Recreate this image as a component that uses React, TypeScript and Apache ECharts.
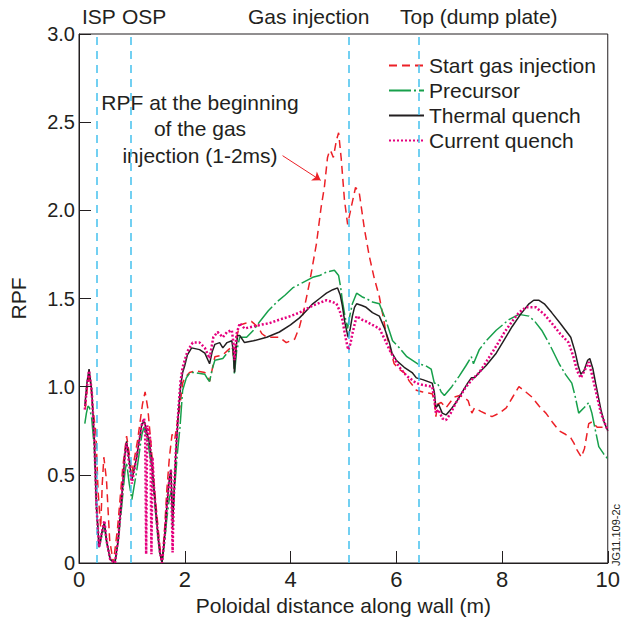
import React, { useEffect, useRef } from "react";
import * as echarts from "echarts";

const xTicks = [0, 2, 4, 6, 8, 10];
const yTicks = [0, 0.5, 1, 1.5, 2, 2.5, 3];

const startGas: [number, number][] = [
  [0.12,0.88],[0.16,1.0],[0.2,1.08],[0.26,0.88],[0.32,0.74],[0.36,0.41],[0.41,0.2],[0.44,0.45],[0.47,0.6],[0.52,0.47],[0.58,0.13],[0.65,0.0],[0.73,0.2],[0.83,0.55],[0.9,0.72],[0.95,0.62],[1.0,0.51],[1.11,0.7],[1.2,0.9],[1.25,0.97],[1.3,0.88],[1.36,0.68],[1.43,0.41],[1.53,0.09],[1.57,0.0],[1.62,0.2],[1.66,0.41],[1.71,0.6],[1.76,0.73],[1.81,0.7],[1.86,0.8],[1.91,0.89],[1.96,1.02],[2.0,1.05],[2.09,1.08],[2.2,1.09],[2.38,1.08],[2.47,1.03],[2.57,1.17],[2.72,1.18],[2.9,1.23],[2.94,1.1],[2.98,1.28],[3.04,1.35],[3.15,1.36],[3.26,1.37],[3.38,1.34],[3.46,1.3],[3.55,1.28],[3.79,1.28],[3.92,1.25],[4.08,1.27],[4.17,1.34],[4.25,1.43],[4.36,1.59],[4.49,1.81],[4.58,2.02],[4.64,2.13],[4.7,2.3],[4.74,2.34],[4.77,2.33],[4.81,2.3],[4.87,2.4],[4.91,2.44],[4.96,2.29],[5.02,2.06],[5.08,1.92],[5.15,2.02],[5.23,2.13],[5.3,2.1],[5.4,1.89],[5.49,1.74],[5.58,1.62],[5.68,1.51],[5.75,1.4],[5.81,1.3],[5.88,1.22],[5.96,1.13],[6.05,1.1],[6.15,1.08],[6.25,1.03],[6.38,0.98],[6.5,0.97],[6.68,0.96],[6.72,0.92],[6.75,0.83],[6.78,0.9],[6.85,0.91],[6.94,0.88],[7.09,0.94],[7.2,0.95],[7.28,0.94],[7.36,0.92],[7.43,0.85],[7.48,0.88],[7.6,0.86],[7.81,0.83],[7.95,0.85],[8.08,0.88],[8.2,0.94],[8.32,1.0],[8.45,0.97],[8.57,0.94],[8.7,0.89],[8.83,0.85],[8.95,0.8],[9.08,0.75],[9.2,0.73],[9.3,0.71],[9.36,0.68],[9.42,0.64],[9.5,0.6],[9.56,0.65],[9.64,0.79],[9.7,0.8],[9.8,0.77],[9.9,0.77],[10.0,0.77]
];

const precursor: [number, number][] = [
  [0.11,0.79],[0.14,0.85],[0.17,0.89],[0.2,0.88],[0.24,0.82],[0.29,0.65],[0.33,0.32],[0.38,0.09],[0.43,0.15],[0.48,0.21],[0.52,0.12],[0.59,0.02],[0.68,0.0],[0.74,0.12],[0.81,0.33],[0.87,0.52],[0.9,0.57],[0.95,0.45],[1.0,0.36],[1.09,0.52],[1.19,0.73],[1.23,0.77],[1.28,0.72],[1.32,0.65],[1.37,0.55],[1.42,0.38],[1.48,0.18],[1.53,0.05],[1.57,0.0],[1.62,0.12],[1.66,0.25],[1.71,0.37],[1.75,0.41],[1.78,0.3],[1.81,0.43],[1.86,0.62],[1.91,0.77],[1.96,0.98],[2.03,1.05],[2.1,1.08],[2.19,1.08],[2.38,1.07],[2.44,1.04],[2.47,1.03],[2.52,1.1],[2.57,1.15],[2.72,1.16],[2.8,1.19],[2.91,1.22],[2.94,1.07],[2.98,1.2],[3.04,1.28],[3.17,1.28],[3.3,1.32],[3.42,1.37],[3.58,1.43],[3.74,1.48],[3.9,1.52],[4.04,1.56],[4.23,1.59],[4.42,1.62],[4.55,1.63],[4.68,1.65],[4.83,1.66],[4.91,1.63],[4.95,1.56],[4.98,1.49],[5.03,1.4],[5.08,1.33],[5.12,1.4],[5.17,1.47],[5.25,1.53],[5.35,1.51],[5.43,1.5],[5.55,1.48],[5.68,1.47],[5.8,1.38],[5.93,1.26],[6.06,1.22],[6.2,1.17],[6.4,1.13],[6.55,1.12],[6.66,1.1],[6.72,1.02],[6.78,1.02],[6.85,0.97],[6.91,0.95],[7.05,1.0],[7.19,1.06],[7.32,1.12],[7.42,1.17],[7.46,1.13],[7.57,1.21],[7.7,1.26],[7.89,1.32],[8.13,1.38],[8.32,1.41],[8.51,1.4],[8.62,1.37],[8.75,1.32],[8.9,1.24],[9.08,1.13],[9.2,1.07],[9.32,1.02],[9.38,0.95],[9.45,0.85],[9.55,0.88],[9.64,0.91],[9.7,0.85],[9.74,0.79],[9.83,0.66],[9.92,0.62],[10.0,0.59]
];

const thermal: [number, number][] = [
  [0.11,0.89],[0.15,1.02],[0.19,1.1],[0.24,0.98],[0.29,0.7],[0.33,0.32],[0.38,0.09],[0.43,0.17],[0.48,0.23],[0.52,0.13],[0.59,0.02],[0.68,0.0],[0.74,0.13],[0.81,0.38],[0.87,0.62],[0.9,0.69],[0.95,0.58],[1.0,0.47],[1.09,0.6],[1.19,0.79],[1.24,0.8],[1.28,0.74],[1.32,0.7],[1.37,0.6],[1.42,0.42],[1.48,0.2],[1.53,0.06],[1.57,0.0],[1.62,0.15],[1.66,0.32],[1.71,0.48],[1.74,0.53],[1.77,0.2],[1.79,0.35],[1.83,0.62],[1.88,0.85],[1.92,1.0],[1.96,1.08],[2.0,1.12],[2.05,1.18],[2.13,1.22],[2.28,1.21],[2.38,1.19],[2.44,1.15],[2.47,1.13],[2.52,1.2],[2.57,1.24],[2.66,1.25],[2.72,1.22],[2.8,1.25],[2.89,1.26],[2.92,1.2],[2.94,1.08],[2.97,1.22],[3.0,1.29],[3.04,1.29],[3.13,1.25],[3.3,1.26],[3.55,1.28],[3.79,1.31],[4.0,1.35],[4.17,1.39],[4.3,1.43],[4.42,1.47],[4.55,1.5],[4.68,1.53],[4.8,1.55],[4.89,1.56],[4.94,1.52],[4.98,1.46],[5.03,1.36],[5.09,1.28],[5.13,1.33],[5.17,1.4],[5.21,1.45],[5.25,1.47],[5.35,1.46],[5.43,1.45],[5.55,1.42],[5.68,1.4],[5.78,1.33],[5.87,1.25],[5.92,1.19],[6.0,1.15],[6.15,1.11],[6.3,1.08],[6.38,1.05],[6.5,1.04],[6.68,1.02],[6.72,0.97],[6.75,0.88],[6.8,0.9],[6.87,0.85],[6.94,0.84],[7.03,0.87],[7.13,0.91],[7.25,0.97],[7.35,1.02],[7.42,1.05],[7.48,1.05],[7.57,1.08],[7.7,1.12],[7.89,1.19],[8.05,1.27],[8.19,1.34],[8.35,1.41],[8.51,1.47],[8.6,1.49],[8.7,1.49],[8.8,1.47],[8.94,1.42],[9.1,1.36],[9.2,1.32],[9.3,1.28],[9.38,1.2],[9.44,1.12],[9.49,1.07],[9.55,1.09],[9.62,1.15],[9.66,1.16],[9.72,1.1],[9.77,1.02],[9.87,0.87],[9.93,0.8],[10.0,0.75]
];

const current: [number, number][] = [
  [0.11,0.87],[0.15,1.0],[0.19,1.09],[0.24,0.98],[0.29,0.7],[0.33,0.32],[0.38,0.09],[0.43,0.17],[0.48,0.24],[0.52,0.13],[0.59,0.02],[0.68,0.0],[0.74,0.13],[0.81,0.38],[0.87,0.62],[0.9,0.68],[0.95,0.56],[1.0,0.45],[1.09,0.6],[1.19,0.79],[1.23,0.82],[1.25,0.78],[1.27,0.05],[1.29,0.78],[1.32,0.74],[1.35,0.7],[1.37,0.05],[1.39,0.6],[1.42,0.42],[1.48,0.2],[1.53,0.06],[1.57,0.0],[1.62,0.15],[1.66,0.32],[1.71,0.48],[1.74,0.53],[1.77,0.06],[1.79,0.35],[1.83,0.62],[1.88,0.87],[1.92,1.03],[1.96,1.11],[2.0,1.15],[2.05,1.2],[2.15,1.25],[2.28,1.25],[2.38,1.22],[2.44,1.18],[2.47,1.16],[2.54,1.28],[2.62,1.31],[2.72,1.28],[2.8,1.31],[2.89,1.32],[2.92,1.25],[2.94,1.15],[2.98,1.3],[3.04,1.36],[3.13,1.33],[3.42,1.35],[3.6,1.36],[3.79,1.38],[4.0,1.4],[4.17,1.42],[4.42,1.46],[4.68,1.49],[4.8,1.48],[4.87,1.47],[4.93,1.43],[4.98,1.38],[5.04,1.28],[5.09,1.21],[5.13,1.24],[5.17,1.3],[5.25,1.4],[5.35,1.38],[5.43,1.37],[5.55,1.35],[5.68,1.33],[5.78,1.27],[5.87,1.21],[6.0,1.14],[6.06,1.11],[6.2,1.06],[6.38,1.02],[6.5,1.01],[6.68,1.0],[6.72,0.93],[6.75,0.85],[6.8,0.87],[6.87,0.82],[6.94,0.81],[7.03,0.85],[7.13,0.91],[7.3,0.99],[7.43,1.04],[7.57,1.08],[7.7,1.14],[7.89,1.23],[8.05,1.31],[8.19,1.37],[8.32,1.42],[8.45,1.45],[8.64,1.45],[8.8,1.41],[8.94,1.36],[9.1,1.3],[9.26,1.25],[9.35,1.17],[9.42,1.09],[9.49,1.05],[9.56,1.09],[9.64,1.14],[9.7,1.07],[9.77,0.98],[9.87,0.85],[10.0,0.75]
];

const markerX = [0.33, 0.98, 5.1, 6.43];
const markerNames = ["ISP", "OSP", "Gas injection", "Top (dump plate)"];
const arrowFrom: [number, number] = [3.85, 2.31];
const arrowTo: [number, number] = [4.57, 2.17];

const FONT = "'Liberation Sans', Arial, Helvetica, sans-serif";
const TXT = "#231f20";
const RED = "#ec2027";
const GREEN = "#17a04b";
const BLACK = "#231f20";
const PINK = "#e5007e";
const CYAN = "#44c1ee";

export default function App() {
  const ref = useRef<HTMLDivElement>(null);
  useEffect(() => {
    document.body.style.margin = "0";
    if (!ref.current) return;
    const chart = echarts.init(ref.current, undefined, { renderer: "svg" });
    const markerLeft = [82, 122, 248, 400];
    chart.setOption({
      animation: false,
      backgroundColor: "#ffffff",
      textStyle: { fontFamily: FONT, color: TXT },
      grid: {
        left: 79, right: 14, top: 34, bottom: 59,
        show: true, borderColor: BLACK, borderWidth: 1, backgroundColor: "transparent",
      },
      legend: {
        orient: "vertical",
        left: 383,
        top: 50,
        itemWidth: 35,
        itemHeight: 14,
        itemGap: 4,
        data: ["Start gas injection", "Precursor", "Thermal quench", "Current quench"],
        itemStyle: { opacity: 0 },
        textStyle: { fontSize: 21, color: TXT, fontFamily: FONT, lineHeight: 21 },
        selectedMode: false,
      },
      xAxis: {
        type: "value",
        min: 0, max: 10, interval: 2,
        name: "Poloidal distance along wall (m)",
        nameLocation: "middle",
        nameGap: 32,
        nameTextStyle: { fontSize: 21, color: TXT, fontFamily: FONT },
        axisLine: { show: true, lineStyle: { color: BLACK, width: 1 } },
        axisTick: { show: true, inside: true, length: 12, lineStyle: { color: BLACK, width: 1 } },
        axisLabel: {
          fontSize: 22, color: TXT, fontFamily: FONT, margin: 5,
          formatter: (v: number) => (xTicks.includes(v) ? String(v) : ""),
        },
        splitLine: { show: false },
      },
      yAxis: {
        type: "value",
        min: 0, max: 3, interval: 0.5,
        name: "RPF",
        nameLocation: "middle",
        nameGap: 50,
        nameTextStyle: { fontSize: 21, color: TXT, fontFamily: FONT },
        axisLine: { show: true, lineStyle: { color: BLACK, width: 1 } },
        axisTick: { show: true, inside: true, length: 12, lineStyle: { color: BLACK, width: 1 } },
        axisLabel: {
          fontSize: 20, color: TXT, fontFamily: FONT, margin: 4,
          formatter: (v: number) => (yTicks.includes(v) ? (v === 0 ? "0" : v.toFixed(1)) : ""),
        },
        splitLine: { show: false },
      },
      series: [
        {
          name: "Start gas injection",
          type: "line",
          data: startGas,
          symbol: "none",
          z: 2,
          lineStyle: { color: RED, width: 1.5, type: [8, 5] },
          itemStyle: { color: RED },
          markLine: {
            silent: true,
            symbol: ["none", "none"],
            label: { show: false },
            animation: false,
            data: [
              ...markerX.map((x) => ({
                xAxis: x,
                lineStyle: { color: CYAN, width: 1.5, type: [8, 6] },
              })),
              [
                { coord: arrowFrom, symbol: "none", lineStyle: { color: RED, width: 1, type: "solid" } },
                { coord: arrowTo, symbol: "arrow", symbolSize: 8 },
              ],
            ],
          },
        },
        {
          name: "Precursor",
          type: "line",
          data: precursor,
          symbol: "none",
          z: 3,
          lineStyle: { color: GREEN, width: 1.5, type: [22, 3, 2, 3] },
          itemStyle: { color: GREEN },
        },
        {
          name: "Thermal quench",
          type: "line",
          data: thermal,
          symbol: "none",
          z: 4,
          lineStyle: { color: BLACK, width: 1.5, type: "solid" },
          itemStyle: { color: BLACK },
        },
        {
          name: "Current quench",
          type: "line",
          data: current,
          symbol: "none",
          z: 5,
          lineStyle: { color: PINK, width: 2.5, type: [2, 2] },
          itemStyle: { color: PINK },
        },
      ],
      graphic: [
        ...markerNames.map((t, i) => ({
          type: "text",
          left: markerLeft[i],
          top: 6,
          style: { text: t, fontSize: 21, fill: TXT, fontFamily: FONT },
        })),
        {
          type: "text",
          x: 200,
          y: 89,
          style: {
            text: "RPF at the beginning\nof the gas\ninjection (1-2ms)",
            fontSize: 21,
            lineHeight: 26.5,
            align: "center",
            verticalAlign: "top",
            fill: TXT,
            fontFamily: FONT,
          },
        },
        {
          type: "text",
          x: 616,
          y: 535,
          rotation: Math.PI / 2,
          style: {
            text: "JG11.109-2c",
            fontSize: 11,
            align: "center",
            verticalAlign: "middle",
            fill: TXT,
            fontFamily: FONT,
          },
        },
      ],
    });
    return () => chart.dispose();
  }, []);
  return <div ref={ref} style={{ width: 623, height: 622 }} />;
}
